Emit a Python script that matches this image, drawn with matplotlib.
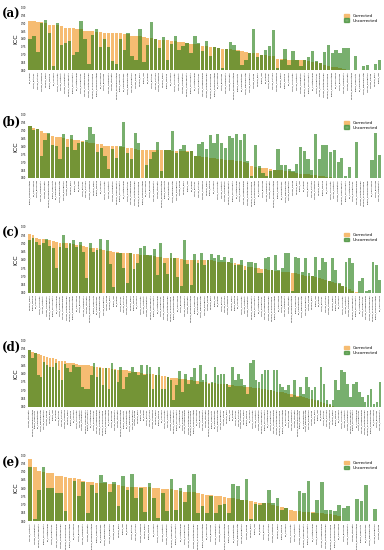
import numpy as np
import matplotlib.pyplot as plt
from matplotlib.patches import Patch

nan = np.nan

# ---- panel (a)
corr_a = [0.918, 0.918, 0.907, 0.907, 0.905, 0.893, 0.893, 0.893, 0.882, 0.873,
          0.873, 0.873, 0.867, 0.867, 0.849, 0.849, 0.849, 0.844, 0.844, 0.84,
          0.84, 0.84, 0.838, 0.836, 0.831, 0.831, 0.822, 0.822, 0.818, 0.813,
          0.809, 0.804, 0.80, 0.796, 0.796, 0.791, 0.787, 0.787, 0.782, 0.778,
          0.773, 0.769, 0.769, 0.769,
          0.756, 0.756, 0.749, 0.749, 0.742, 0.738, 0.738, 0.733, 0.729, 0.729,
          0.722, 0.718, 0.711, 0.707, 0.707, 0.70, 0.70, 0.693, 0.689, 0.673,
          0.673, 0.673, 0.667, 0.667, 0.667, 0.667, 0.662, 0.656, 0.651, 0.651,
          0.644, 0.633, 0.629, 0.622, 0.618, 0.611, 0.607, 0.602,
          nan, nan, nan, nan, nan, nan, nan, nan]
unc_a = [0.80, 0.822, 0.718, 0.905, 0.922, 0.84, 0.629, 0.90, 0.764, 0.776,
         0.784, 0.696, 0.718, 0.916, 0.798, 0.642, 0.824, 0.864, 0.749, 0.80,
         0.749, 0.658, 0.642, 0.80, 0.727, 0.84, 0.689, 0.664, 0.862, 0.649,
         0.764, 0.907, 0.80, 0.742, 0.811, 0.662, 0.769, 0.818, 0.729, 0.756,
         0.773, 0.707, 0.822, 0.773,
         0.722, 0.789, 0.689, 0.749, 0.744, 0.611, 0.738, 0.778, 0.762, 0.722,
         0.633, 0.667, 0.711, 0.867, 0.684, 0.70, 0.729, 0.756, 0.856, 0.611,
         0.667, 0.738, 0.633, 0.722, 0.667, 0.629, 0.667, 0.684, 0.722, 0.656,
         0.644, 0.716, 0.76, 0.711, 0.727, 0.707, 0.744, 0.744,
         nan, 0.689, nan, 0.627, 0.633, nan, 0.638, 0.662]

# ---- panel (b)
corr_b = [0.93, 0.915, 0.91, 0.895, 0.885, 0.88, 0.868, 0.862, 0.862, 0.855,
          0.846, 0.846, 0.84, 0.838, 0.835, 0.83, 0.825, 0.822, 0.815, 0.815,
          0.806, 0.804, 0.80, 0.80, 0.797, 0.795, 0.793, 0.79, 0.785, 0.78,
          0.779, 0.778, 0.777, 0.777, 0.776, 0.775, 0.775, 0.775, 0.774, 0.774,
          0.773, 0.772, 0.77, 0.77, 0.74, 0.74,
          0.731, 0.731, 0.726, 0.724, 0.722, 0.72, 0.716, 0.714, 0.712, 0.709,
          0.705, 0.701, 0.695, 0.674, 0.67, 0.663, 0.663, 0.663, 0.657, 0.653,
          0.651, 0.649, 0.646, 0.642, 0.636, 0.632, 0.628, 0.625, 0.623, 0.621,
          0.619, 0.615, 0.611, 0.607, 0.605, 0.603, 0.602, 0.601, 0.60,
          nan, nan, nan, nan, nan, nan, nan, nan, nan]
unc_b = [0.93, 0.905, 0.909, 0.737, 0.838, 0.888, 0.811, 0.80, 0.72, 0.88,
         0.796, 0.874, 0.775, 0.821, 0.827, 0.84, 0.922, 0.88, 0.766, 0.789,
         0.739, 0.657, 0.783, 0.726, 0.80, 0.954, 0.758, 0.72, 0.884, 0.825,
         nan, 0.684, 0.72, 0.768, 0.827, 0.642, 0.777, 0.777, 0.899, 0.756,
         0.785, 0.811, 0.762, 0.773, 0.737, 0.815,
         0.827, 0.785, 0.874, 0.821, 0.878, 0.821, 0.789, 0.869, 0.853, 0.88,
         0.84, 0.88, 0.705, 0.61, 0.811, 0.674, 0.632, 0.61, 0.642, 0.653,
         0.785, 0.684, 0.68, 0.659, 0.642, 0.69, 0.796, 0.773, 0.72, 0.648,
         0.878, 0.72, 0.811, 0.808, 0.768, 0.779, 0.699, 0.724, 0.615, 0.669,
         nan, 0.83, nan, nan, nan, 0.716, 0.884, 0.747]

# ---- panel (c)
corr_c = [0.96, 0.95, 0.935, 0.93, 0.925, 0.92, 0.92, 0.915, 0.91, 0.905,
          0.90, 0.90, 0.895, 0.895, 0.89, 0.89, 0.885, 0.88, 0.875, 0.87,
          0.87, 0.865, 0.86, 0.855, 0.855, 0.85, 0.85, 0.845, 0.845, 0.84,
          0.84, 0.835, 0.835, 0.83, 0.83, 0.83, 0.825, 0.825, 0.82, 0.82,
          0.815, 0.815, 0.81, 0.81, 0.81, 0.805, 0.80, 0.80, 0.80, 0.80,
          0.80, 0.80,
          0.80, 0.80, 0.80, 0.795, 0.79, 0.79, 0.79, 0.785, 0.78, 0.78,
          0.775, 0.77, 0.765, 0.76, 0.755, 0.75, 0.75, 0.745, 0.745, 0.74,
          0.74, 0.735, 0.735, 0.73, 0.73, 0.725, 0.72, 0.72, 0.715, 0.71,
          0.705, 0.70, 0.70, 0.695, 0.69, 0.685, 0.68, 0.675, 0.665, 0.66,
          0.655, 0.645, 0.635, 0.625, 0.615, 0.605,
          nan, nan, nan, nan, nan, nan, nan]
unc_c = [0.92, 0.936, 0.91, 0.89, 0.90, 0.93, 0.884, 0.87, 0.754, 0.88,
         0.95, 0.87, 0.90, 0.92, 0.88, 0.91, 0.85, 0.69, 0.904, 0.85,
         0.86, 0.926, nan, 0.92, 0.774, 0.634, 0.84, 0.84, 0.75, 0.66,
         0.84, 0.744, 0.78, 0.87, 0.884, 0.83, 0.83, 0.866, 0.71, 0.90,
         0.78, 0.714, 0.84, 0.81, 0.696, 0.64, 0.922, 0.774, 0.65, 0.834,
         0.78, 0.84,
         0.77, 0.80, 0.835, 0.81, 0.83, 0.80, 0.82, 0.79, 0.815, 0.77,
         0.77, 0.80, 0.74, 0.79, 0.79, 0.78, 0.72, 0.72, 0.81, 0.82,
         0.74, 0.83, 0.74, 0.75, 0.84, 0.84, 0.61, 0.82, 0.81, 0.73,
         0.81, 0.72, 0.70, 0.82, 0.74, 0.81, 0.79, 0.67, 0.81, 0.74,
         0.66, 0.64, 0.79, 0.81, 0.78, 0.60, 0.674, 0.69, 0.61, 0.62,
         0.786, 0.77, 0.68]

# ---- panel (d)
corr_d = [0.94, 0.93, 0.92, 0.915, 0.91, 0.905, 0.90, 0.895, 0.89, 0.885,
          0.875, 0.874, 0.872, 0.865, 0.86, 0.86, 0.855, 0.852, 0.85, 0.85,
          0.848, 0.845, 0.84, 0.84, 0.838, 0.835, 0.83, 0.83, 0.828, 0.825,
          0.822, 0.82, 0.82, 0.818, 0.815, 0.81, 0.81, 0.808, 0.805, 0.80,
          0.80, 0.798, 0.795, 0.79, 0.79, 0.788, 0.785, 0.78, 0.775, 0.774,
          0.772, 0.77, 0.766, 0.765, 0.763, 0.76, 0.755, 0.754,
          0.752, 0.75, 0.75, 0.746, 0.745, 0.745, 0.74, 0.738, 0.738, 0.735,
          0.732, 0.732, 0.728, 0.725, 0.725, 0.722, 0.72, 0.718, 0.715, 0.715,
          0.712, 0.708, 0.705, 0.70, 0.70, 0.695, 0.692, 0.69, 0.688, 0.684,
          0.68, 0.676, 0.672, 0.668, 0.665, 0.66, 0.655, 0.65, 0.645, 0.64,
          0.635, 0.63, 0.625, 0.618, 0.61, 0.605,
          nan, nan, nan, nan, nan, nan, nan, nan, nan, nan, nan, nan, nan, nan,
          nan, nan]
unc_d = [0.94, 0.894, 0.92, 0.79, 0.78, 0.87, 0.85, 0.84, 0.84, 0.86,
         0.82, 0.76, 0.854, 0.83, 0.81, 0.85, 0.84, 0.84, 0.72, 0.71,
         0.71, 0.794, 0.86, 0.78, 0.83, 0.73, 0.83, 0.71, 0.864, 0.82,
         0.75, 0.836, 0.71, 0.78, 0.806, 0.836, 0.81, 0.79, 0.85, 0.79,
         0.85, 0.84, 0.71, 0.79, 0.836, 0.71, 0.71, 0.78, 0.76, 0.64,
         0.734, 0.814, 0.69, 0.80, 0.74, 0.78, 0.83, 0.74,
         0.85, 0.76, 0.80, 0.74, 0.75, 0.84, 0.79, 0.80, 0.80, 0.74,
         0.72, 0.84, 0.76, 0.80, 0.77, 0.73, 0.68, 0.86, 0.88, 0.76,
         0.75, 0.80, 0.82, 0.82, 0.70, 0.82, 0.82, 0.74, 0.72, 0.70,
         0.73, 0.66, 0.76, 0.66, 0.72, 0.68, 0.78, 0.72, 0.70, 0.72,
         0.64, 0.84, 0.74, 0.64, 0.62, 0.64, 0.76, 0.70, 0.82, 0.81,
         0.74, 0.66, 0.74, 0.75, 0.69, 0.66, 0.63, 0.67, 0.71, 0.62,
         0.63, 0.75]

# ---- panel (e)
corr_e = [0.974, 0.925, 0.903, 0.90, 0.889, 0.889, 0.873, 0.873, 0.865, 0.859,
          0.859, 0.853, 0.842, 0.838, 0.838, 0.832, 0.828, 0.828, 0.822, 0.822,
          0.818, 0.814, 0.808, 0.808, 0.804, 0.804, 0.804, 0.804, 0.798, 0.798,
          0.794, 0.792, 0.792, 0.788, 0.784, 0.778, 0.778, 0.774, 0.768,
          0.764, 0.76, 0.758, 0.754, 0.75, 0.744, 0.738, 0.737, 0.734, 0.728,
          0.726, 0.72, 0.718, 0.712, 0.71, 0.71, 0.70, 0.69, 0.686, 0.68,
          0.665, 0.66, 0.658, 0.656, 0.654, 0.652, 0.65, 0.648, 0.645, 0.64,
          0.635, 0.63, nan, nan, nan, nan, nan, nan, nan, nan, nan]
unc_e = [0.93, 0.612, 0.79, 0.925, 0.80, 0.80, 0.768, 0.768, 0.663, nan,
         0.84, 0.75, 0.834, 0.65, 0.818, 0.768, 0.879, 0.834, 0.774, 0.834,
         0.69, 0.873, 0.79, 0.885, 0.737, 0.798, 0.653, 0.828, 0.737, 0.616,
         0.772, 0.663, 0.855, 0.667, 0.798, 0.717, 0.818, 0.883, 0.65,
         0.69, 0.646, 0.75, 0.646, 0.70, 0.706, 0.646, 0.824, 0.81, 0.725,
         0.855, 0.61, 0.706, 0.70, 0.71, 0.788, 0.71, 0.74, 0.665, 0.68,
         nan, nan, 0.78, 0.77, 0.844, 0.65, 0.73, 0.838, 0.665, 0.665,
         0.66, 0.70, 0.68, 0.69, nan, 0.736, 0.72, 0.818, nan, 0.675, nan]

# feature names on the x axis (too small to read in the original)
groups = ["FO", "GLCM", "GLRLM", "GLSZM", "NGTDM", "Shape"]
names = ["Energy", "Entropy", "Kurtosis", "Skewness", "Mean", "Median",
         "Variance", "Uniformity", "Contrast", "Correlation", "Homogeneity",
         "Dissimilarity", "ClusterShade", "SumEntropy", "LongRunEmph",
         "ShortRunEmph", "GLNonUniform", "RunPercentage", "Coarseness",
         "Busyness", "Complexity", "Strength", "ZonePercentage", "Sphericity",
         "Compactness", "MaxDiameter", "Elongation", "Range", "RMS", "IQR"]


def labels_for(n, start):
    return [groups[(start + i) % len(groups)] + "_" + names[(start * 7 + i) % len(names)]
            for i in range(n)]


panels = [
    ("(a)", corr_a, unc_a, 0.8727, 0.1128, 0.9745),
    ("(b)", corr_b, unc_b, 0.6764, 0.1146, 0.778),
    ("(c)", corr_c, unc_c, 0.4673, 0.1200, 0.576),
    ("(d)", corr_d, unc_d, 0.2600, 0.1218, 0.369),
    ("(e)", corr_e, unc_e, 0.0527, 0.1200, 0.158),
]

orange = '#F6BC72'
green = '#1E7A0E'
g_alpha = 0.6

fig = plt.figure(figsize=(3.84, 5.5), dpi=100)

for k, (letter, corr, unc, bottom, height, ty) in enumerate(panels):
    ax = fig.add_axes([0.072, bottom, 0.922, height])
    x = np.arange(len(corr))
    ax.bar(x, corr, width=0.85, color=orange)
    ax.bar(x, unc, width=0.85, color=green, alpha=g_alpha)
    ax.set_ylim(0.6, 1.0)
    ax.set_xlim(-0.6, len(corr) - 0.4)
    yt = np.arange(0.60, 1.001, 0.05)
    ax.set_yticks(yt)
    ax.set_yticklabels([f"{v:.2f}" for v in yt], fontsize=1.8)
    ax.set_xticks(x)
    ax.set_xticklabels(labels_for(len(corr), k * 11), rotation=90, fontsize=1.6)
    ax.tick_params(length=0, pad=1)
    for s in ax.spines.values():
        s.set_visible(False)
    ax.set_ylabel('ICC', fontsize=4.5, labelpad=1.5)
    fig.text(0.006, ty, letter, fontsize=8.5, fontweight='bold', family='serif',
             va='center')
    handles = [Patch(color=orange), Patch(color=green, alpha=g_alpha)]
    ax.legend(handles, ['Corrected', 'Uncorrected'], loc='upper right',
              bbox_to_anchor=(1.0, 0.97), fontsize=3, frameon=False,
              handlelength=1.4, handleheight=0.8, labelspacing=0.2)

fig.savefig('out.png', dpi=100)
